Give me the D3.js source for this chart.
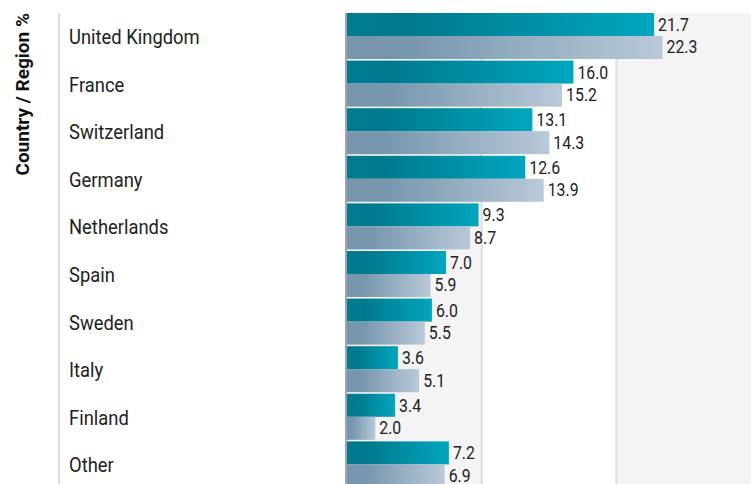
<!DOCTYPE html>
<html><head><meta charset="utf-8">
<script src="https://cdn.jsdelivr.net/npm/d3@7"></script>
<style>html,body{margin:0;padding:0;background:#fff;overflow:hidden}svg{display:block;font-family:Roboto,"Noto Sans",sans-serif}</style>
</head><body>
<script>
const categories = ["United Kingdom","France","Switzerland","Germany","Netherlands","Spain","Sweden","Italy","Finland","Other"];
const seriesA = [21.7,16.0,13.1,12.6,9.3,7.0,6.0,3.6,3.4,7.2];
const seriesB = [22.3,15.2,14.3,13.9,8.7,5.9,5.5,5.1,2.0,6.9];
const axisTitle = "Country / Region %";
const xMax = 28.55;

(function(){
const W = 751, H = 484;
const svg = d3.select("body").append("svg").attr("width", W).attr("height", H);
const defs = svg.append("defs");
const gA = defs.append("linearGradient").attr("id","gA").attr("x1","0").attr("x2","1").attr("y1","0").attr("y2","0");
[[0,"#007c90"],[0.2,"#00798d"],[1,"#00a6bf"]].forEach(s=>gA.append("stop").attr("offset",s[0]).attr("stop-color",s[1]));
const gB = defs.append("linearGradient").attr("id","gB").attr("x1","0").attr("x2","1").attr("y1","0").attr("y2","0");
[[0,"#7796ad"],[0.2,"#7797af"],[1,"#b9c9d8"]].forEach(s=>gB.append("stop").attr("offset",s[0]).attr("stop-color",s[1]));

const x0 = 347, topY = 13;
const x = d3.scaleLinear().domain([0, xMax]).range([x0, W]);
const y = d3.scaleBand().domain(categories).range([topY, topY + 47.6*categories.length]).padding(0);
const gap = 1.6;
const bh = (y.bandwidth() - gap) / 2;

const bandEdges = d3.range(0, 4).map(i => i * xMax / 3);
svg.selectAll("rect.band").data(d3.pairs(bandEdges)).enter().append("rect")
  .attr("x", d => x(d[0])).attr("width", d => x(d[1]) - x(d[0]))
  .attr("y", topY).attr("height", H - topY)
  .attr("fill", (d,i) => i % 2 === 0 ? "#f4f4f4" : "#ffffff");
svg.selectAll("line.grid").data(bandEdges.slice(1,3)).enter().append("line")
  .attr("x1", d => x(d)).attr("x2", d => x(d)).attr("y1", topY).attr("y2", H)
  .attr("stroke", "#dedede").attr("stroke-width", 2);

svg.append("line").attr("x1",59).attr("x2",59).attr("y1",topY).attr("y2",H).attr("stroke","#dddddd").attr("stroke-width",2);

const rows = svg.selectAll("g.row").data(categories).enter().append("g").attr("transform", d => `translate(0,${y(d)})`);
rows.append("rect").attr("x", x(0)).attr("y", 0).attr("height", bh)
  .attr("width", (d,i) => x(seriesA[i]) - x(0)).attr("fill","url(#gA)");
rows.append("rect").attr("x", x(0)).attr("y", bh).attr("height", bh)
  .attr("width", (d,i) => x(seriesB[i]) - x(0)).attr("fill","url(#gB)");
rows.append("text").attr("transform", (d,i) => `translate(${x(seriesA[i]) + 4},${bh/2}) scale(0.88,1)`).attr("dy","0.36em")
  .attr("font-size", 18).attr("fill","#222").text((d,i) => seriesA[i].toFixed(1));
rows.append("text").attr("transform", (d,i) => `translate(${x(seriesB[i]) + 4},${bh*1.5 - 0.5}) scale(0.88,1)`).attr("dy","0.36em")
  .attr("font-size", 18).attr("fill","#222").text((d,i) => seriesB[i].toFixed(1));
rows.append("text").attr("transform", `translate(69,${y.bandwidth()/2}) scale(0.92,1)`).attr("dy","0.36em")
  .attr("font-size", 20).attr("fill","#222").text(d => d);

svg.append("line").attr("x1", x0-1).attr("x2", x0-1).attr("y1", topY).attr("y2", H).attr("stroke","#a3a3a3").attr("stroke-width",2);

svg.append("text").attr("transform", `translate(29,${topY}) rotate(-90)`).attr("text-anchor","end")
  .attr("font-size",19).attr("font-weight","bold").attr("fill","#111").text(axisTitle);
})();
</script>
</body></html>
